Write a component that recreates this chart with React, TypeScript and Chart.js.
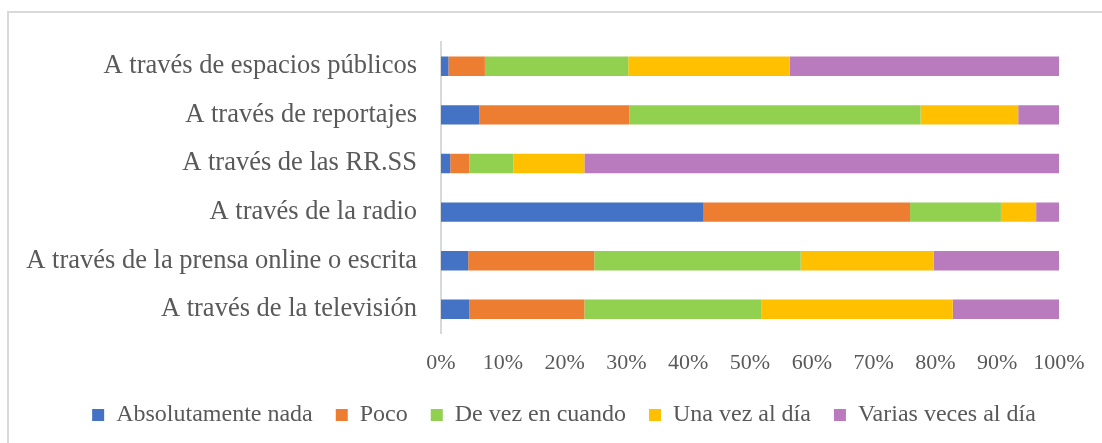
import React, { useEffect, useRef } from "react";
import { Chart, registerables } from "chart.js";

Chart.register(...registerables);

const categories = [
  "A través de espacios públicos",
  "A través de reportajes",
  "A través de las RR.SS",
  "A través de la radio",
  "A través de la prensa online o escrita",
  "A través de la televisión",
];
const seriesNames = [
  "Absolutamente nada",
  "Poco",
  "De vez en cuando",
  "Una vez al día",
  "Varias veces al día",
];
const absolutamenteNada = [1.2, 6.2, 1.5, 42.5, 4.4, 4.6];
const poco = [5.9, 24.3, 3.1, 33.4, 20.4, 18.6];
const deVezEnCuando = [23.2, 47.1, 7.1, 14.7, 33.4, 28.6];
const unaVezAlDia = [26.1, 15.8, 11.5, 5.7, 21.5, 31.0];
const variasVecesAlDia = [43.6, 6.6, 76.8, 3.7, 20.3, 17.2];
const xTickValues = [0, 10, 20, 30, 40, 50, 60, 70, 80, 90, 100];

const colors = ["#4472C4", "#ED7D31", "#92D050", "#FFC000", "#B97BBD"];
const FONT = "'Liberation Serif', 'Times New Roman', serif";

const shiftLegend = {
  id: "shiftLegend",
  afterLayout(chart: any) {
    const lg = chart.legend;
    if (lg) {
      lg.left += 3;
      lg.right += 3;
    }
  },
};

export default function App() {
  const ref = useRef<HTMLCanvasElement | null>(null);
  useEffect(() => {
    if (!ref.current) return;
    const seriesData = [absolutamenteNada, poco, deVezEnCuando, unaVezAlDia, variasVecesAlDia];
    const chart = new Chart(ref.current, {
      type: "bar",
      data: {
        labels: categories,
        datasets: seriesNames.map((name, i) => ({
          label: name,
          data: seriesData[i],
          backgroundColor: colors[i],
          borderWidth: 0,
          barPercentage: 0.4,
          categoryPercentage: 1,
        })),
      },
      plugins: [shiftLegend],
      options: {
        indexAxis: "y",
        responsive: false,
        animation: false,
        layout: { padding: { top: 42, right: 0, left: 20, bottom: 6 } },
        plugins: {
          tooltip: { enabled: false },
          legend: {
            position: "bottom",
            labels: {
              boxWidth: 12,
              boxHeight: 12,
              padding: 23,
              color: "#595959",
              font: { family: FONT, size: 24 },
            },
          },
        },
        scales: {
          x: {
            stacked: true,
            min: 0,
            max: 100,
            afterBuildTicks: (scale: any) => {
              scale.ticks = xTickValues.map((v) => ({ value: v }));
            },
            afterFit: (scale: any) => {
              scale.height = scale.height - 12;
              scale.paddingRight = 43;
            },
            grid: { display: false, drawTicks: false },
            border: { display: false },
            ticks: {
              padding: 16,
              color: "#595959",
              font: { family: FONT, size: 22 },
              callback: (v: any) => v + "%",
              maxRotation: 0,
              autoSkip: false,
            },
          },
          y: {
            stacked: true,
            grid: { display: false, drawTicks: false },
            border: { display: true, color: "#d9d9d9", width: 2 },
            ticks: {
              padding: 24,
              color: "#595959",
              font: { family: FONT, size: 26.5 },
              autoSkip: false,
            },
            afterFit: (scale: any) => {
              scale.width = 421;
            },
          },
        },
      },
    });
    return () => chart.destroy();
  }, []);
  return (
    <div
      style={{
        position: "fixed",
        left: 0,
        top: 0,
        width: 1102,
        height: 443,
        overflow: "hidden",
        background: "#fff",
      }}
    >
      <div
        style={{
          position: "absolute",
          left: 7,
          top: 11,
          width: 1200,
          height: 600,
          border: "2px solid #d9d9d9",
          boxSizing: "border-box",
        }}
      />
      <canvas ref={ref} width={1102} height={443} style={{ position: "absolute", left: 0, top: 0 }} />
    </div>
  );
}
